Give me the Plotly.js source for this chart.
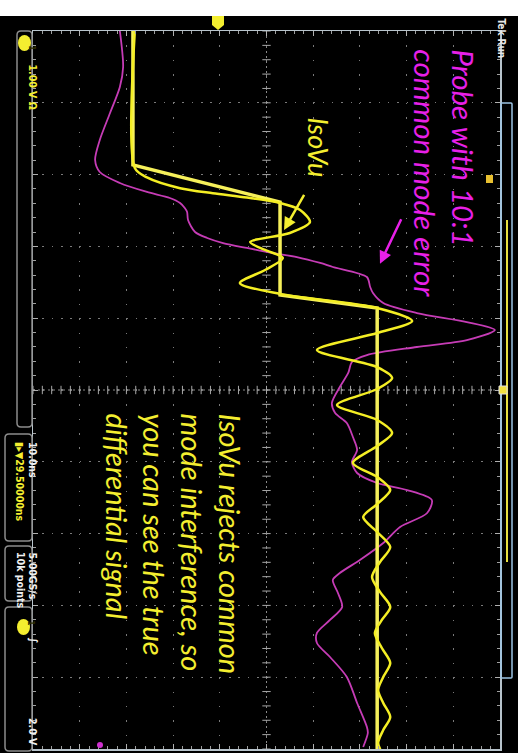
<!DOCTYPE html>
<html><head><meta charset="utf-8">
<script src="https://cdn.plot.ly/plotly-3.0.1.min.js"></script>
<style>html,body{margin:0;padding:0;background:#000;}#chart{width:518px;height:753px;}</style>
</head><body><div id="chart"></div>
<script>
// ---- Data (volts at 1.00 V/div, time in ns at 10.0 ns/div, time runs top->bottom) ----
const isoStepVolts  = [-2.86, -2.86, 0.29, 0.29, 2.37, 2.37];
const isoStepTimeNs = [0, 18.66, 23.82, 36.77, 38.58, 100];

const isoRingVolts  = [-2.82, -2.82, -2.56, -1.85, -1.15, -0.42, 0.29, 0.72, 0.93, 0.50, -0.35, -0.03, 0.35, -0.03, -0.57, 0.29,
                       2.37, 3.12, 2.37, 1.08, 2.37, 2.69, 2.37, 1.51, 2.37, 2.69, 2.37, 1.85, 2.37, 2.65, 2.37, 2.07,
                       2.37, 2.65, 2.43, 2.26, 2.43, 2.65, 2.47, 2.32, 2.47, 2.65, 2.50, 2.39, 2.50, 2.65, 2.50, 2.39, 2.47];
const isoRingTimeNs = [0, 19.08, 20.40, 21.90, 22.60, 23.20, 23.96, 24.93, 26.60, 28.13, 29.39, 30.50, 31.62, 33.29, 35.10, 36.63,
                       38.58, 40.39, 42.06, 44.43, 46.80, 48.33, 49.86, 52.09, 54.18, 55.99, 57.80, 60.17, 62.12, 63.93, 65.88, 67.69,
                       69.78, 71.87, 73.96, 76.04, 78.13, 80.22, 82.03, 83.84, 85.93, 88.02, 89.97, 91.78, 93.59, 95.54, 97.35, 99.16, 100.5];

const probeVolts  = [-3.14, -3.07, -3.14, -3.35, -3.57, -3.67, -3.57, -3.14, -2.56, -2.07, -1.85, -1.75, -1.70, -1.68, -1.53, -1.27,
                     -0.93, -0.42, 0.14, 0.65, 1.15, 1.42, 2.15, 2.22, 2.28, 2.50, 3.22, 4.29, 4.89, 4.29, 3.22, 2.15,
                     1.83, 1.75, 1.57, 1.40, 1.47, 1.72, 1.85, 1.94, 1.83, 1.94, 2.37, 3.01, 3.54, 3.44, 2.86, 2.50,
                     2.00, 1.57, 1.42, 1.53, 1.62, 1.36, 1.08, 1.08, 1.36, 1.72, 1.94, 2.15, 2.17, 2.07];
const probeTimeNs = [0, 5.01, 7.80, 11.42, 15.18, 17.97, 19.64, 21.17, 22.42, 23.26, 23.96, 24.65, 25.21, 26.32, 27.99, 28.83,
                     29.53, 30.22, 30.92, 31.48, 32.31, 32.87, 34.26, 35.65, 36.49, 37.88, 39.28, 40.53, 41.64, 43.04, 44.01, 45.13,
                     46.10, 47.63, 49.58, 51.81, 53.20, 54.60, 56.55, 58.36, 60.03, 61.56, 62.95, 63.93, 65.32, 67.13, 69.08, 71.31,
                     73.68, 75.49, 76.46, 78.27, 80.22, 82.03, 83.84, 85.24, 87.19, 89.97, 93.59, 96.94, 97.77, 99.72];

const probeLabel = "Probe with 10:1<br>common mode error";
const isoLabel = "IsoVu";
const noteLabel = "IsoVu rejects common<br>mode interference, so<br>you can see the true<br>differential signal";

// ---- Geometry helpers (pixel -> paper) ----
const L = 33, T = 31, W = 467, H = 718;
const px = x => (x - L) / W;
const py = y => 1 - (y - T) / H;
function rrect(x0, y0, x1, y1, r) {
  const X = px, Y = py;
  return `M${X(x0 + r)},${Y(y0)} L${X(x1 - r)},${Y(y0)} Q${X(x1)},${Y(y0)} ${X(x1)},${Y(y0 + r)} ` +
         `L${X(x1)},${Y(y1 - r)} Q${X(x1)},${Y(y1)} ${X(x1 - r)},${Y(y1)} L${X(x0 + r)},${Y(y1)} ` +
         `Q${X(x0)},${Y(y1)} ${X(x0)},${Y(y1 - r)} L${X(x0)},${Y(y0 + r)} Q${X(x0)},${Y(y0)} ${X(x0 + r)},${Y(y0)} Z`;
}

// center crosshair tick positions (minor divisions)
const vTicksY = [], hTicksX = [];
for (let i = 0; i <= 50; i++) vTicksY.push(i * 2);
for (let i = 0; i <= 50; i++) hTicksX.push(-5 + i * 0.2);

const traces = [
  { x: vTicksY.map(() => 0), y: vTicksY, mode: 'markers', hoverinfo: 'skip',
    marker: { symbol: 'line-ew', size: 6, line: { color: '#a8a8a8', width: 1 } } },
  { x: hTicksX, y: hTicksX.map(() => 50), mode: 'markers', hoverinfo: 'skip',
    marker: { symbol: 'line-ns', size: 6, line: { color: '#a8a8a8', width: 1 } } },
  { x: probeVolts, y: probeTimeNs, mode: 'lines', line: { color: '#c63cb6', width: 1.8, shape: 'spline', smoothing: 0.8 }, hoverinfo: 'skip' },
  { x: isoStepVolts, y: isoStepTimeNs, mode: 'lines', line: { color: '#f6f05a', width: 3.5 }, hoverinfo: 'skip' },
  { x: isoRingVolts, y: isoRingTimeNs, mode: 'lines', line: { color: '#f4ee24', width: 2.5, shape: 'spline', smoothing: 0.8 }, hoverinfo: 'skip' }
];

const smallFont = { family: 'DejaVu Sans Condensed, DejaVu Sans, sans-serif', size: 10.5, color: '#f0f0f0' };
const yel = '#f4ee30';
const shapes = [
  // white top band
  { type: 'rect', xref: 'paper', yref: 'paper', x0: px(0), x1: px(518), y0: py(16), y1: py(0), fillcolor: '#ffffff', line: { width: 0 } },
  // center crosshair
  { type: 'line', xref: 'x', yref: 'y', x0: 0, x1: 0, y0: 0, y1: 100, line: { color: '#8a8a8a', width: 1, dash: '2px,3px' }, layer: 'below' },
  { type: 'line', xref: 'x', yref: 'y', x0: -5, x1: 5, y0: 50, y1: 50, line: { color: '#8a8a8a', width: 1, dash: '2px,3px' }, layer: 'below' },
  // left info boxes
  { type: 'path', xref: 'paper', yref: 'paper', path: rrect(17, 31, 32, 427, 4), line: { color: '#8c8c8c', width: 1.5 } },
  { type: 'path', xref: 'paper', yref: 'paper', path: rrect(5, 434, 32, 541, 4), line: { color: '#8c8c8c', width: 1.5 } },
  { type: 'path', xref: 'paper', yref: 'paper', path: rrect(5, 546, 32, 601, 4), line: { color: '#8c8c8c', width: 1.5 } },
  { type: 'path', xref: 'paper', yref: 'paper', path: rrect(5, 607, 32, 751, 4), line: { color: '#8c8c8c', width: 1.5 } },
  { type: 'circle', xref: 'paper', yref: 'paper', x0: px(18), x1: px(31), y0: py(35), y1: py(51), fillcolor: yel, line: { width: 0 } },
  { type: 'circle', xref: 'paper', yref: 'paper', x0: px(17), x1: px(30), y0: py(619), y1: py(635), fillcolor: yel, line: { width: 0 } },
  // top channel marker
  { type: 'path', xref: 'paper', yref: 'paper',
    path: `M${px(212)},${py(16)} L${px(224)},${py(16)} L${px(224)},${py(25)} L${px(218)},${py(30)} L${px(212)},${py(25)} Z`,
    fillcolor: yel, line: { width: 0 } },
  // right side markers / panel
  { type: 'rect', xref: 'paper', yref: 'paper', x0: px(486), x1: px(493), y0: py(183), y1: py(175), fillcolor: '#e8c030', line: { width: 0 } },
  { type: 'path', xref: 'paper', yref: 'paper', path: rrect(501, 103, 512, 678, 1), line: { color: '#9cc4e4', width: 1.5 } },
  { type: 'line', xref: 'paper', yref: 'paper', x0: px(507), x1: px(507), y0: py(220), y1: py(562), line: { color: '#e8e040', width: 2 } },
  { type: 'rect', xref: 'paper', yref: 'paper', x0: px(499), x1: px(507), y0: py(394), y1: py(386), fillcolor: '#f0e040', line: { color: '#e0e0e0', width: 1 } },
  // magenta ground dot
  { type: 'circle', xref: 'paper', yref: 'paper', x0: px(97), x1: px(103), y0: py(742), y1: py(748), fillcolor: '#d030d0', line: { width: 0 } }
];

const italicFont = (c, s) => ({ family: 'Lato, Open Sans, sans-serif', size: s, color: c, style: 'italic' });
const sf = (extra) => Object.assign({}, smallFont, extra || {});
const annotations = [
  { xref: 'x', yref: 'y', x: 3.82, y: 19.8, text: probeLabel, showarrow: false, textangle: 90, align: 'left', font: italicFont('#e820e8', 29.5) },
  { xref: 'x', yref: 'y', x: 1.12, y: 16.2, text: isoLabel, showarrow: false, textangle: 90, font: italicFont('#f4ee30', 27) },
  { xref: 'x', yref: 'y', x: -1.98, y: 71.4, text: noteLabel, showarrow: false, textangle: 90, align: 'left', font: italicFont('#f4ee30', 29) },
  // arrows
  { xref: 'x', yref: 'y', axref: 'x', ayref: 'y', x: 0.375, y: 27.7, ax: 0.824, ay: 22.6, text: '', showarrow: true,
    arrowhead: 2, arrowsize: 1, arrowwidth: 2.5, arrowcolor: '#f4ee30' },
  { xref: 'x', yref: 'y', axref: 'x', ayref: 'y', x: 2.43, y: 32.4, ax: 2.90, ay: 26.0, text: '', showarrow: true,
    arrowhead: 2, arrowsize: 1, arrowwidth: 2.5, arrowcolor: '#e820e8' },
  // left info text
  { xref: 'paper', yref: 'paper', x: px(24.5), y: py(43), text: '<b>1</b>', showarrow: false, textangle: 90, font: sf({ color: '#303000', size: 8 }) },
  { xref: 'paper', yref: 'paper', x: px(25), y: py(62), yanchor: 'top', text: '<b>1.00 V Ω</b>', showarrow: false, textangle: 90, font: sf({ color: yel }) },
  { xref: 'paper', yref: 'paper', x: px(25), y: py(440), yanchor: 'top', text: '<b>10.0ns</b>', showarrow: false, textangle: 90, font: sf() },
  { xref: 'paper', yref: 'paper', x: px(12), y: py(440), yanchor: 'top', text: '<b>▮▸▼29.50000ns</b>', showarrow: false, textangle: 90, font: sf({ color: yel }) },
  { xref: 'paper', yref: 'paper', x: px(25), y: py(550), yanchor: 'top', text: '<b>5.00GS/s</b>', showarrow: false, textangle: 90, font: sf() },
  { xref: 'paper', yref: 'paper', x: px(13), y: py(550), yanchor: 'top', text: '<b>10k points</b>', showarrow: false, textangle: 90, font: sf() },
  { xref: 'paper', yref: 'paper', x: px(23.5), y: py(627), text: '<b>1</b>', showarrow: false, textangle: 90, font: sf({ color: '#303000', size: 8 }) },
  { xref: 'paper', yref: 'paper', x: px(25), y: py(645), text: '<b>∫</b>', showarrow: false, textangle: 90, font: sf() },
  { xref: 'paper', yref: 'paper', x: px(25), y: py(748), yanchor: 'bottom', text: '<b>2.0 V</b>', showarrow: false, textangle: 90, font: sf() },
  { xref: 'paper', yref: 'paper', x: px(509), y: py(17), yanchor: 'top', text: '<b>Tek Run</b>', showarrow: false, textangle: 90, font: sf({ color: '#e8e8e8', size: 10 }) }
];

const axisCommon = {
  showticklabels: false, showline: true, linecolor: '#b8c4cc', linewidth: 1.5, mirror: 'allticks',
  ticks: 'inside', ticklen: 5, tickcolor: '#b0b0b0', tickwidth: 1, zeroline: false,
  showgrid: true, gridcolor: '#7a7a7a', gridwidth: 1.2, fixedrange: true
};
const layout = {
  width: 518, height: 753, autosize: false,
  margin: { l: L, r: 518 - L - W, t: T, b: 753 - T - H, pad: 0 },
  paper_bgcolor: '#000000', plot_bgcolor: '#000000', showlegend: false,
  xaxis: Object.assign({}, axisCommon, { range: [-5, 5], dtick: 1, tick0: 0, griddash: '1.5px,12.86px',
    minor: { dtick: 0.2, ticks: 'inside', ticklen: 3, tickcolor: '#a0a0a0', showgrid: false } }),
  yaxis: Object.assign({}, axisCommon, { range: [100, 0], dtick: 10, tick0: 0, griddash: '1.5px,7.84px',
    minor: { dtick: 2, ticks: 'inside', ticklen: 3, tickcolor: '#a0a0a0', showgrid: false } }),
  shapes: shapes, annotations: annotations
};
Plotly.newPlot('chart', traces, layout, { staticPlot: true, displayModeBar: false });
</script>
</body></html>
